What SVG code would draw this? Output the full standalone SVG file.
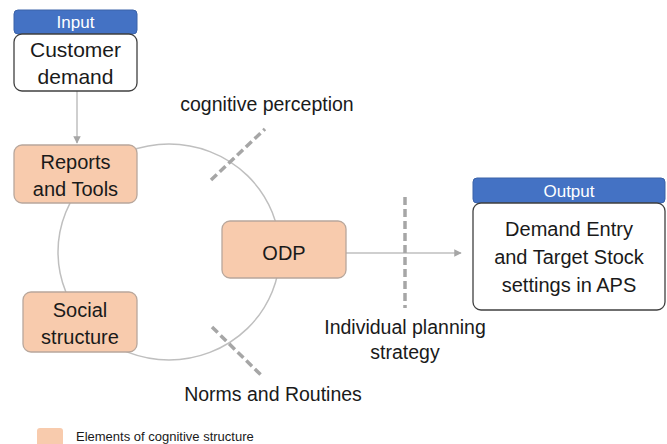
<svg xmlns="http://www.w3.org/2000/svg" width="667" height="444" viewBox="0 0 667 444">
<style>
text{font-family:"Liberation Sans","Open Sans",sans-serif;fill:#1a1a1a;text-anchor:middle}
.hdr{fill:#4472C4;stroke:#3a62a8;stroke-width:1}
.hdrt{fill:#fff;font-size:17px}
.wbox{fill:#fff;stroke:#404040;stroke-width:1.3}
.pbox{fill:#F8CBAD;stroke:#b8a79c;stroke-width:1.3}
.lbl{font-size:20px}
.note{font-size:19.5px}
.conn{stroke:#BFBFBF;stroke-width:1.5;fill:none}
.dash{stroke:#A6A6A6;stroke-width:3.5;stroke-dasharray:8,4;fill:none}
</style>
<defs>
<marker id="ah" viewBox="0 0 10 10" refX="9" refY="5" markerWidth="5" markerHeight="5" orient="auto">
<path d="M0,0 L10,5 L0,10 z" fill="#A6A6A6"/>
</marker>
</defs>
<g id="connectors">
<ellipse class="conn" cx="169" cy="252" rx="111" ry="108"/>
<line class="conn" x1="77" y1="91" x2="77" y2="143" marker-end="url(#ah)"/>
<line class="conn" x1="346" y1="253" x2="461" y2="253" marker-end="url(#ah)"/>
<line class="dash" x1="211" y1="180" x2="265" y2="129"/>
<line class="dash" x1="212" y1="327" x2="263" y2="377"/>
<line class="dash" x1="405" y1="197" x2="405" y2="308"/>
</g>
<g id="input">
<rect class="hdr" x="14" y="10" width="123" height="24" rx="4"/>
<text class="hdrt" x="75.5" y="28">Input</text>
<rect class="wbox" x="14" y="34" width="123" height="57" rx="8"/>
<text class="lbl" x="75.5" y="57" style="font-size:21px">Customer</text>
<text class="lbl" x="75.5" y="84" style="font-size:21px">demand</text>
</g>
<g id="reports">
<rect class="pbox" x="14" y="145" width="123" height="58" rx="8"/>
<text class="lbl" x="75.5" y="169">Reports</text>
<text class="lbl" x="75.5" y="196">and Tools</text>
</g>
<g id="social">
<rect class="pbox" x="23" y="292" width="114" height="60" rx="8"/>
<text class="lbl" x="80" y="317">Social</text>
<text class="lbl" x="80" y="344">structure</text>
</g>
<g id="odp">
<rect class="pbox" x="222" y="221" width="124" height="57" rx="8"/>
<text class="lbl" x="284" y="260">ODP</text>
</g>
<g id="output">
<rect class="hdr" x="473" y="178" width="192" height="25" rx="4"/>
<text class="hdrt" x="569" y="197">Output</text>
<rect class="wbox" x="473" y="203" width="192" height="107" rx="8"/>
<text class="lbl" x="569" y="236">Demand Entry</text>
<text class="lbl" x="569" y="264">and Target Stock</text>
<text class="lbl" x="569" y="292">settings in APS</text>
</g>
<g id="labels">
<text class="note" x="267" y="111">cognitive perception</text>
<text class="note" x="273" y="401">Norms and Routines</text>
<text class="note" x="405" y="334">Individual planning</text>
<text class="note" x="405" y="359">strategy</text>
</g>
<g id="legend">
<rect x="37" y="428" width="26" height="18" rx="3" fill="#F8CBAD"/>
<text x="76" y="441" style="font-size:13px;text-anchor:start">Elements of cognitive structure</text>
</g>
</svg>
